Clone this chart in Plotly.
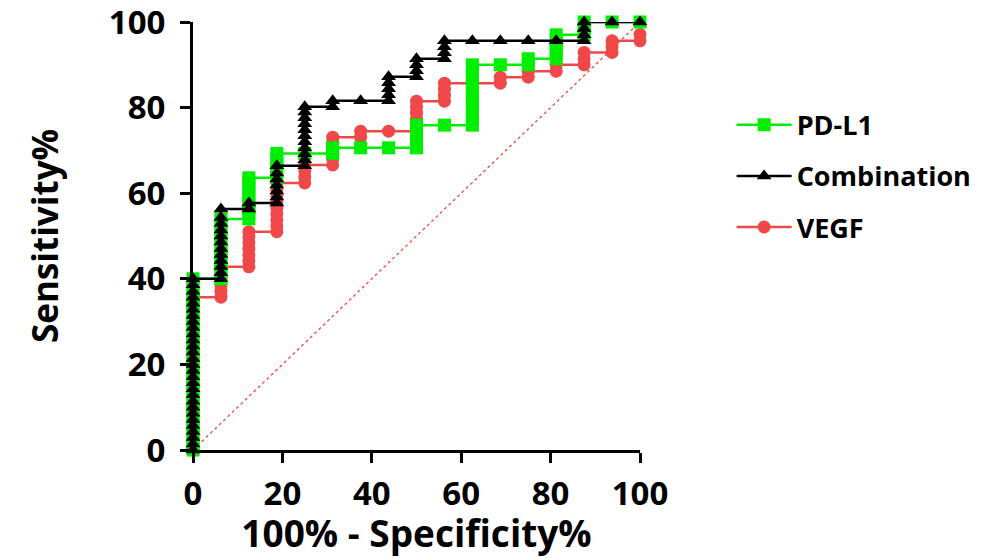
import plotly.graph_objects as go

# ---------------- data ----------------
# 100% - Specificity% steps (16 negatives)
comb_x = ([0]*29 + [6.25]*12 + [12.5]*2 + [18.75]*7 + [25]*11 + [31.25]*2 + [37.5]
          + [43.75]*5 + [50]*4 + [56.25]*4 + [62.5, 68.75, 75, 81.25] + [87.5]*4 + [93.75, 100])
comb_y = [0, 1.4, 2.9, 4.3, 5.7, 7.1, 8.6, 10, 11.4, 12.9, 14.3, 15.7, 17.1, 18.6, 20, 21.4,
          22.9, 24.3, 25.7, 27.1, 28.6, 30, 31.4, 32.9, 34.3, 35.7, 37.1, 38.6, 40,
          40, 41.4, 42.9, 44.3, 45.7, 47.1, 48.6, 50, 51.4, 52.9, 54.3, 56.3,
          56.3, 57.7,
          57.7, 59.1, 60.5, 61.9, 63.3, 64.7, 66.4,
          66.4, 67.8, 69.2, 70.6, 72, 73.4, 74.8, 76.2, 77.6, 79, 80.2,
          80.2, 81.6,
          81.6,
          81.6, 83, 84.4, 85.8, 87.2,
          87.2, 88.6, 90, 91.4,
          91.4, 92.8, 94.2, 95.6,
          95.6, 95.6, 95.6, 95.6,
          95.6, 97, 98.5, 100,
          100, 100]

pdl1_x = ([0]*29 + [6.25]*11 + [12.5]*8 + [18.75]*5 + [25] + [31.25]*2 + [37.5, 43.75]
          + [50]*5 + [56.25] + [62.5]*11 + [68.75] + [75]*2 + [81.25]*5 + [87.5]*3 + [93.75, 100])
pdl1_y = [0, 1.4, 2.9, 4.3, 5.7, 7.1, 8.6, 10, 11.4, 12.9, 14.3, 15.7, 17.1, 18.6, 20, 21.4,
          22.9, 24.3, 25.7, 27.1, 28.6, 30, 31.4, 32.9, 34.3, 35.7, 37.1, 38.6, 40,
          40, 41.4, 42.8, 44.2, 45.6, 47, 48.4, 49.8, 51.2, 52.6, 54,
          54, 55.4, 56.8, 58.2, 59.6, 61, 62.4, 63.6,
          63.6, 65, 66.4, 67.8, 69.3,
          69.3,
          69.3, 70.6,
          70.6, 70.6,
          70.6, 72, 73.4, 74.6, 75.9,
          75.9,
          75.9, 77.3, 78.7, 80.1, 81.5, 82.9, 84.3, 85.7, 87.1, 88.5, 90,
          90,
          90, 91.4,
          91.4, 92.8, 94.2, 95.6, 97,
          97, 98.5, 100,
          100, 100]

vegf_x = ([0]*26 + [6.25]*6 + [12.5]*7 + [18.75]*9 + [25]*4 + [31.25]*6 + [37.5]*2 + [43.75]
          + [50]*6 + [56.25]*4 + [62.5] + [68.75]*2 + [75]*2 + [81.25]*2 + [87.5]*3
          + [93.75]*3 + [100]*2)
vegf_y = [0, 1.4, 2.9, 4.3, 5.7, 7.1, 8.6, 10, 11.4, 12.9, 14.3, 15.7, 17.1, 18.6, 20, 21.4,
          22.9, 24.3, 25.7, 27.1, 28.6, 30, 31.4, 32.9, 34.3, 35.7,
          35.7, 37.1, 38.5, 40, 41.4, 42.8,
          42.8, 44.2, 45.6, 47, 48.4, 49.8, 51,
          51, 52.4, 53.8, 55.2, 56.6, 58, 59.4, 60.8, 62.4,
          62.4, 63.8, 65.2, 66.6,
          66.6, 68, 69.3, 70.6, 71.9, 73.1,
          73.1, 74.5,
          74.5,
          74.5, 75.9, 77.3, 78.7, 80.1, 81.5,
          81.5, 82.9, 84.3, 85.7,
          85.7,
          85.7, 87.1,
          87.1, 88.5,
          88.5, 90,
          90, 91.4, 92.9,
          92.9, 94.3, 95.6,
          95.6, 97.1]

diag_x = [0, 100]
diag_y = [0, 100]

x_ticks = [0, 20, 40, 60, 80, 100]
y_ticks = [0, 20, 40, 60, 80, 100]

GREEN = "#00ee00"
RED = "#f04848"
BLACK = "#000000"
FONT = "Open Sans"

fig = go.Figure()

fig.add_trace(go.Scatter(x=diag_x, y=diag_y, mode="lines",
                         line=dict(color=RED, width=1.3, dash="dot"),
                         showlegend=False, hoverinfo="skip", cliponaxis=False))

fig.add_trace(go.Scatter(x=vegf_x, y=vegf_y, mode="lines+markers", name="VEGF",
                         line=dict(color=RED, width=2.5),
                         marker=dict(symbol="circle", size=13, color=RED),
                         cliponaxis=False, legendrank=3, legendgroup="c"))
fig.add_trace(go.Scatter(x=pdl1_x, y=pdl1_y, mode="lines+markers", name="PD-L1",
                         line=dict(color=GREEN, width=2.5),
                         marker=dict(symbol="square", size=13, color=GREEN),
                         cliponaxis=False, legendrank=1, legendgroup="a"))
fig.add_trace(go.Scatter(x=comb_x, y=comb_y, mode="lines+markers", name="Combination",
                         line=dict(color=BLACK, width=2.5),
                         marker=dict(symbol="triangle-up", size=13, color=BLACK),
                         cliponaxis=False, legendrank=2, legendgroup="b"))

axis_common = dict(
    range=[0, 100], showgrid=False, zeroline=False, automargin=False,
    showline=True, linewidth=3, linecolor=BLACK,
    ticks="outside", ticklen=10, tickwidth=3, tickcolor=BLACK,
    ticklabeloverflow="allow",
    tickfont=dict(family=FONT, size=33, color=BLACK, weight="bold"),
)

# the page body adds an 8px offset; the figure is sized to fill the rest of the window
fig.update_layout(
    width=981, height=550,
    margin=dict(l=185, r=347, t=14, b=108),
    paper_bgcolor="white", plot_bgcolor="white",
    xaxis=dict(**axis_common, tickvals=x_ticks, ticklabelstandoff=2,
               title=dict(text="100% - Specificity%", standoff=8,
                          font=dict(family=FONT, size=37, color=BLACK, weight="bold"))),
    yaxis=dict(**axis_common, tickvals=y_ticks, ticklabelstandoff=8,
               title=dict(text="Sensitivity%", standoff=40,
                          font=dict(family=FONT, size=35, color=BLACK, weight="bold"))),
    legend=dict(x=1.205, y=0.816, xanchor="left", yanchor="top",
                font=dict(family=FONT, size=27, color=BLACK, weight="bold"),
                tracegroupgap=13, itemwidth=55, bgcolor="rgba(0,0,0,0)"),
    showlegend=True,
)

fig.write_html("out.html")
